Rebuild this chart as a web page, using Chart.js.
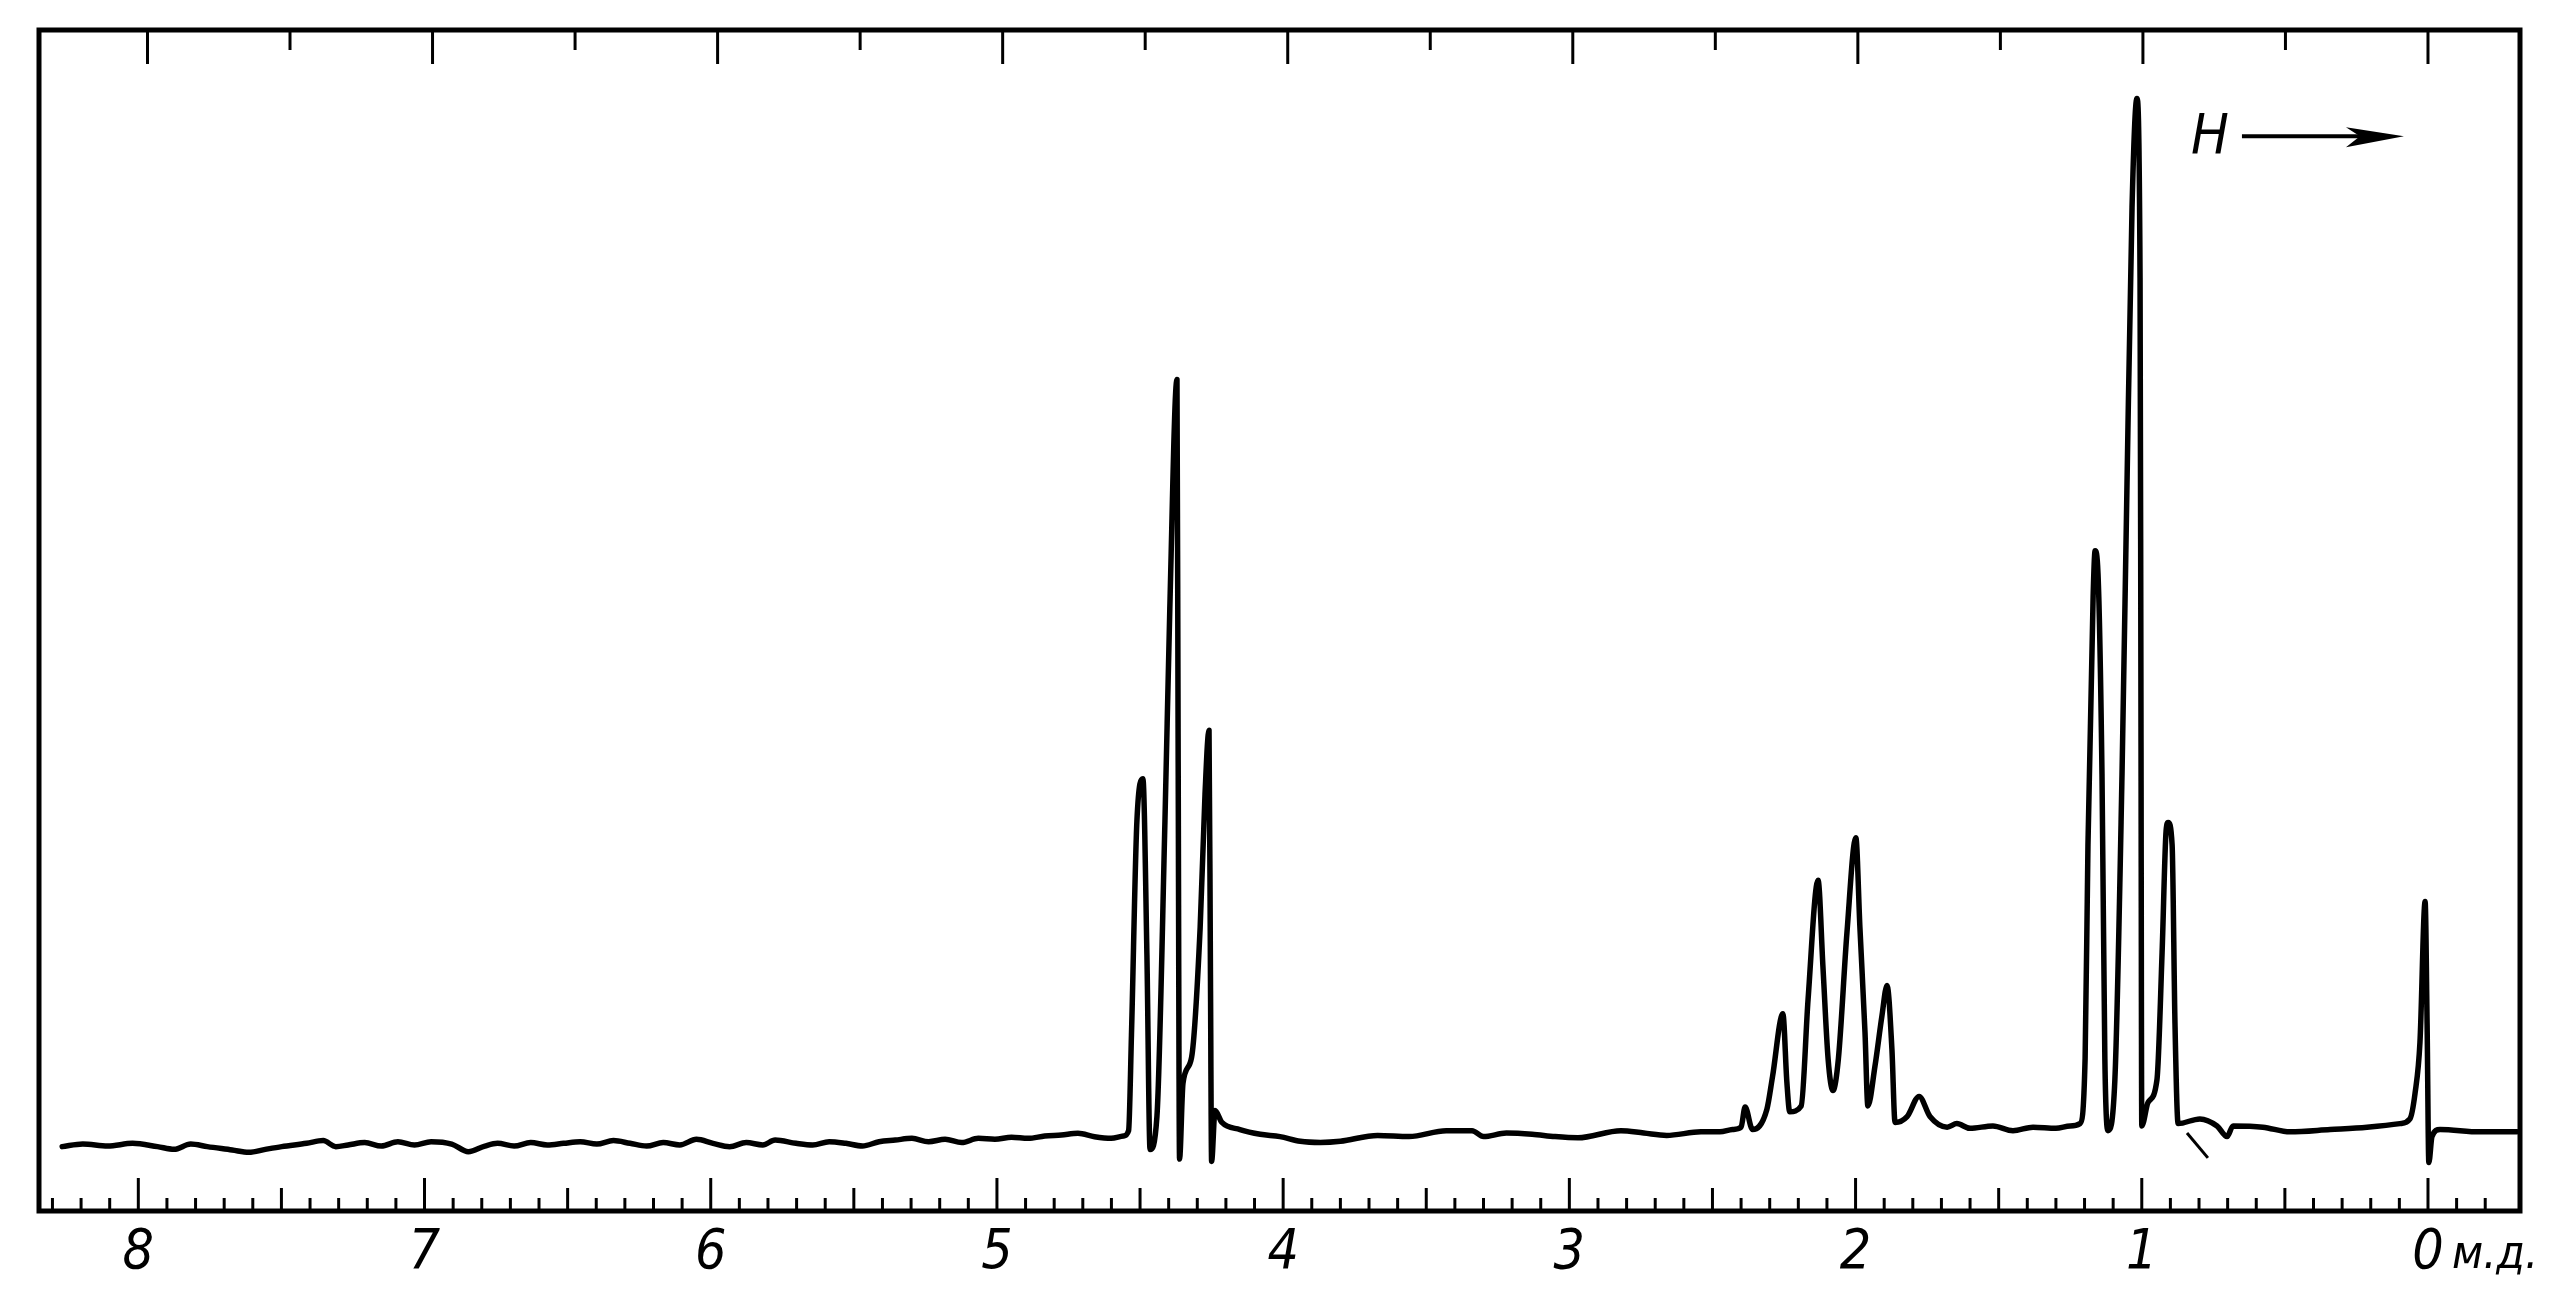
<!DOCTYPE html>
<html>
<head>
<meta charset="utf-8">
<script src="https://cdn.jsdelivr.net/npm/chart.js@4.4.1/dist/chart.umd.min.js"></script>
<style>
html,body{margin:0;padding:0;background:#fff;}
#wrap{width:2576px;height:1298px;position:relative;}
</style>
</head>
<body>
<div id="wrap"><canvas id="c"></canvas></div>
<script>
// Chemical shift (ppm) of each traced point, left to right
const shiftPpm = [
  8.266, 8.194, 8.107, 8.020, 7.933, 7.875, 7.817, 7.759, 7.672, 7.614,
  7.556, 7.499, 7.412, 7.354, 7.310, 7.267, 7.209, 7.151, 7.093, 7.035,
  6.977, 6.905, 6.847, 6.789, 6.745, 6.687, 6.629, 6.571, 6.514, 6.456,
  6.398, 6.340, 6.282, 6.224, 6.166, 6.108, 6.050, 5.992, 5.934, 5.876,
  5.818, 5.775, 5.702, 5.644, 5.586, 5.528, 5.470, 5.412, 5.355, 5.297,
  5.239, 5.181, 5.123, 5.065, 5.007, 4.949, 4.891, 4.833, 4.775, 4.717,
  4.659, 4.601, 4.558,
  4.540, 4.530, 4.511, 4.490, 4.476, 4.465, 4.441, 4.413, 4.396, 4.371,
  4.367, 4.362, 4.350, 4.320, 4.290, 4.273, 4.259, 4.254, 4.250, 4.238,
  4.214, 4.151, 4.080, 4.011,
  3.940, 3.870, 3.800, 3.670, 3.560, 3.430, 3.340, 3.300, 3.220, 3.130,
  3.050, 2.970, 2.820, 2.740, 2.660, 2.540, 2.474, 2.430, 2.400, 2.386,
  2.360, 2.310, 2.290, 2.254, 2.240, 2.230, 2.190, 2.166, 2.131, 2.114,
  2.096, 2.079, 2.060, 2.030, 1.999, 1.985, 1.967, 1.957, 1.932, 1.908,
  1.890, 1.873, 1.862, 1.820, 1.778, 1.740, 1.680, 1.646,
  1.600, 1.520, 1.450, 1.380, 1.300, 1.250, 1.216,
  1.198, 1.188, 1.170, 1.163, 1.153, 1.139, 1.129, 1.118, 1.094, 1.069,
  1.052, 1.034, 1.017, 1.006, 1.003, 1.000, 0.978, 0.947, 0.929, 0.915,
  0.908, 0.894, 0.884, 0.873,
  0.797, 0.737, 0.702, 0.681, 0.577, 0.482, 0.342, 0.213, 0.098, 0.063,
  0.045, 0.028, 0.010, 0.003, -0.003, -0.014, -0.042, -0.182, -0.311
];
// Signal intensity (arbitrary units, 0 = bottom frame, 100 = top frame)
const intensity = [
  5.45, 5.67, 5.50, 5.73, 5.45, 5.22, 5.67, 5.45, 5.17, 4.97,
  5.22, 5.45, 5.73, 5.96, 5.45, 5.59, 5.79, 5.50, 5.87, 5.59,
  5.87, 5.67, 5.02, 5.50, 5.73, 5.50, 5.79, 5.59, 5.73, 5.87,
  5.67, 5.96, 5.73, 5.50, 5.79, 5.59, 6.07, 5.73, 5.45, 5.79,
  5.59, 6.01, 5.73, 5.59, 5.87, 5.73, 5.50, 5.87, 6.01, 6.15,
  5.87, 6.07, 5.79, 6.15, 6.07, 6.24, 6.15, 6.35, 6.44, 6.58,
  6.29, 6.15, 6.35,
  6.8, 14.9, 33.0, 36.6, 21.7, 5.2, 8.0, 33.0, 51.0, 70.4,
  40.0, 4.4, 10.8, 13.0, 24.0, 35.3, 40.7, 20.0, 4.2, 8.5,
  7.5, 6.9, 6.5, 6.3,
  5.9, 5.8, 5.9, 6.4, 6.3, 6.8, 6.8, 6.3, 6.6, 6.5,
  6.3, 6.2, 6.8, 6.6, 6.4, 6.7, 6.7, 6.9, 7.1, 8.8,
  6.9, 8.6, 11.4, 16.7, 10.9, 8.4, 8.9, 17.9, 28.0, 20.7,
  12.9, 10.2, 12.9, 23.6, 31.6, 24.1, 15.1, 8.9, 12.3, 16.5,
  19.1, 13.7, 7.5, 8.0, 9.7, 8.0, 7.1, 7.4,
  7.0, 7.2, 6.8, 7.1, 7.0, 7.2, 7.4,
  12.9, 31.0, 52.0, 55.9, 54.0, 37.0, 12.9, 6.8, 11.1, 37.0,
  61.0, 85.0, 94.2, 79.0, 45.0, 7.2, 9.2, 11.1, 21.9, 32.2,
  32.9, 31.0, 15.9, 7.4,
  7.8, 7.2, 6.3, 7.2, 7.1, 6.7, 6.9, 7.1, 7.4, 7.8,
  10.0, 14.3, 26.2, 15.7, 4.1, 6.3, 6.9, 6.7, 6.7
];
// Stray pen stroke below the baseline near 0.8 ppm
const strokePpm = [0.842, 0.769];
const strokeVal = [6.6, 4.5];

// Axis labelling
const tickValues = [8, 7, 6, 5, 4, 3, 2, 1, 0];
const tickLabels = ['8', '7', '6', '5', '4', '3', '2', '1', '0'];
const unitLabel = 'м.д.';
const fieldLabel = 'H';

const FONT_FAMILY = "'Liberation Sans Narrow', 'DejaVu Sans Condensed', 'Liberation Sans', sans-serif";
const TOP_SCALE_RATIO = 0.996; // top ruler is printed slightly compressed

const spectrum = shiftPpm.map((p, i) => ({ x: p, y: intensity[i] }));
const stroke = strokePpm.map((p, i) => ({ x: p, y: strokeVal[i] }));

const framePlugin = {
  id: 'framePlugin',
  afterDraw(chart) {
    const { ctx, chartArea: a, scales } = chart;
    const x = scales.x, y = scales.y;
    ctx.save();
    ctx.strokeStyle = '#000';
    ctx.fillStyle = '#000';
    ctx.lineCap = 'butt';
    // frame
    ctx.lineWidth = 5;
    ctx.strokeRect(a.left, a.top, a.right - a.left, a.bottom - a.top);
    // bottom ticks (every 0.1 ppm, pointing up)
    ctx.lineWidth = 3;
    for (let i = -2; i <= 83; i++) {
      const px = x.getPixelForValue(i / 10);
      if (px < a.left + 3 || px > a.right - 3) continue;
      const len = (i % 10 === 0) ? 33 : ((i % 5 === 0) ? 23 : 13);
      ctx.beginPath();
      ctx.moveTo(px, a.bottom);
      ctx.lineTo(px, a.bottom - len);
      ctx.stroke();
    }
    // top ticks (every 0.5 ppm, pointing down)
    for (let i = 0; i <= 16; i++) {
      const px = x.getPixelForValue((i / 2) * TOP_SCALE_RATIO);
      const len = (i % 2 === 0) ? 34 : 20;
      ctx.beginPath();
      ctx.moveTo(px, a.top);
      ctx.lineTo(px, a.top + len);
      ctx.stroke();
    }
    // unit label next to the 0 tick label
    ctx.font = 'italic 46px ' + FONT_FAMILY;
    ctx.textAlign = 'left';
    ctx.textBaseline = 'middle';
    ctx.fillText(unitLabel, x.getPixelForValue(0) + 24, a.bottom + 45);
    // field direction arrow  H ---->
    const yy = y.getPixelForValue(91);
    ctx.font = 'italic 56px ' + FONT_FAMILY;
    ctx.textAlign = 'center';
    ctx.fillText(fieldLabel, x.getPixelForValue(0.762), yy + 2);
    const x0 = x.getPixelForValue(0.650), x1 = x.getPixelForValue(0.084);
    ctx.lineWidth = 4;
    ctx.beginPath();
    ctx.moveTo(x0, yy);
    ctx.lineTo(x1 - 30, yy);
    ctx.stroke();
    ctx.beginPath();
    ctx.moveTo(x1, yy);
    ctx.lineTo(x1 - 58, yy - 9);
    ctx.lineTo(x1 - 44, yy);
    ctx.lineTo(x1 - 58, yy + 11);
    ctx.closePath();
    ctx.fill();
    ctx.restore();
  }
};

new Chart(document.getElementById('c'), {
  type: 'line',
  data: {
    datasets: [
      {
        data: spectrum,
        borderColor: '#000',
        borderWidth: 5.5,
        pointRadius: 0,
        cubicInterpolationMode: 'monotone',
        borderJoinStyle: 'round',
        borderCapStyle: 'round',
        fill: false
      },
      {
        data: stroke,
        borderColor: '#000',
        borderWidth: 3,
        pointRadius: 0,
        tension: 0,
        fill: false
      }
    ]
  },
  options: {
    responsive: true,
    maintainAspectRatio: false,
    devicePixelRatio: 1,
    animation: false,
    layout: { padding: { left: 39, right: 56, top: 30, bottom: 0 } },
    plugins: { legend: { display: false }, tooltip: { enabled: false } },
    scales: {
      x: {
        type: 'linear',
        reverse: true,
        min: -0.3215,
        max: 8.347,
        grid: { display: false, drawTicks: false },
        border: { display: false },
        afterBuildTicks: (scale) => { scale.ticks = tickValues.map(v => ({ value: v })); },
        afterFit: (scale) => { scale.height = 87; },
        ticks: {
          autoSkip: false,
          maxRotation: 0,
          padding: 10,
          color: '#000',
          font: { family: FONT_FAMILY, size: 55, style: 'italic' },
          callback: (v) => {
            const idx = tickValues.indexOf(Math.round(v));
            return idx >= 0 ? tickLabels[idx] : '';
          }
        }
      },
      y: {
        type: 'linear',
        display: false,
        min: 0,
        max: 100
      }
    }
  },
  plugins: [framePlugin]
});
</script>
</body>
</html>
